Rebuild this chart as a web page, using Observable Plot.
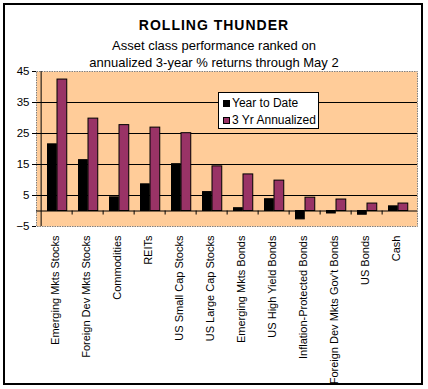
<!DOCTYPE html>
<html><head><meta charset="utf-8">
<script src="https://cdn.jsdelivr.net/npm/d3@7"></script>
<script src="https://cdn.jsdelivr.net/npm/@observablehq/plot@0.6"></script>
<style>
body{margin:0;background:#fff;font-family:"Liberation Sans",Arial,sans-serif;color:#000;}
#wrap{position:relative;width:428px;height:389px;overflow:hidden;background:#fff;}
#head{position:relative;height:64px;}
.hl{position:absolute;left:0;width:428px;text-align:center;white-space:nowrap;}
#t{top:17.5px;font-size:14px;line-height:14px;font-weight:bold;letter-spacing:1px;}
#s1{top:38.5px;font-size:13px;line-height:13px;}
#s2{top:56px;font-size:13px;line-height:13px;}
#chart svg{display:block;}
#border{position:absolute;left:3px;top:3px;width:420px;height:382px;box-sizing:border-box;border:2px solid #000;pointer-events:none;}
#legend{position:absolute;left:218px;top:92px;width:101px;height:37px;box-sizing:border-box;border:1px solid #000;background:#fff;font-size:12px;}
.li{position:absolute;left:4px;height:13px;line-height:13px;white-space:nowrap;}
.sw{display:inline-block;width:7px;height:7px;box-sizing:border-box;border:1px solid #000;margin-right:2px;vertical-align:0px;}
</style></head>
<body>
<div id="wrap">
  <div id="head">
    <div class="hl" id="t">ROLLING THUNDER</div>
    <div class="hl" id="s1">Asset class performance ranked on</div>
    <div class="hl" id="s2">annualized 3-year % returns through May 2</div>
  </div>
  <div id="chart"></div>
  <div id="legend"></div>
  <div id="border"></div>
</div>
<script>
const categories = ["Emerging Mkts Stocks","Foreign Dev Mkts Stocks","Commodities","REITs","US Small Cap Stocks","US Large Cap Stocks","Emerging Mkts Bonds","US High Yield Bonds","Inflation-Protected Bonds","Foreign Dev Mkts Gov't Bonds","US Bonds","Cash"];
const yearToDate = [21.5,16.4,4.4,8.6,15.1,6.1,0.9,3.8,-2.7,-0.8,-1.2,1.5];
const annualized3Yr = [42.4,29.8,27.7,26.9,25.1,14.4,11.8,9.8,4.3,3.7,2.4,2.4];
const seriesNames = ["Year to Date","3 Yr Annualized"];
const seriesColors = ["#000000","#993366"];
const yTicks = [-5,5,15,25,35,45];
const gridValues = [5,15,25,35];

const W = 428, H = 325, mL = 36, mR = 11, mT = 7, mB = 163;
const step = (W - mL - mR) / categories.length;
const rows = categories.map((c, i) => ({category: c, ytd: yearToDate[i], ann: annualized3Yr[i]}));

const chart = Plot.plot({
  width: W, height: H,
  marginLeft: mL, marginRight: mR, marginTop: mT, marginBottom: mB,
  style: {background: "transparent", fontFamily: "'Liberation Sans', Arial, sans-serif", color: "#000", fontSize: "11px"},
  x: {type: "band", domain: categories, padding: 0, axis: null},
  y: {domain: [-5, 45], axis: null},
  marks: [
    Plot.frame({fill: "#FFCC99", stroke: "#808080", strokeDasharray: "1.5,1"}),
    Plot.ruleY(gridValues, {stroke: "#000"}),
    Plot.ruleY([0], {stroke: "#000"}),
    Plot.ruleX(categories.slice(1), {x: d => d, y1: 0, y2: -1.3, dx: -step / 2, stroke: "#000"}),
    Plot.barY(rows, {x: "category", y: "ytd", fill: seriesColors[0], stroke: "#000", insetLeft: 6.5, insetRight: step - 16}),
    Plot.barY(rows, {x: "category", y: "ann", fill: seriesColors[1], stroke: "#000", insetLeft: 16, insetRight: step - 26.5}),
    Plot.ruleX([categories[0]], {x: d => d, dx: -step / 2, y1: -5, y2: 45, stroke: "#000"}),
    Plot.axisY({ticks: yTicks, tickSize: 4, tickPadding: 3, fontSize: 11.5, anchor: "left", label: null}),
    Plot.text(categories, {x: d => d, frameAnchor: "bottom", rotate: -90, textAnchor: "end", dy: 9, dx: 2, fontSize: 11})
  ]
});
document.getElementById("chart").appendChild(chart);

const legend = document.getElementById("legend");
seriesNames.forEach((name, i) => {
  const d = document.createElement("div");
  d.className = "li";
  d.style.top = (i === 0 ? 4 : 21) + "px";
  d.innerHTML = `<span class="sw" style="background:${seriesColors[i]}"></span>${name}`;
  legend.appendChild(d);
});
</script>
</body></html>
